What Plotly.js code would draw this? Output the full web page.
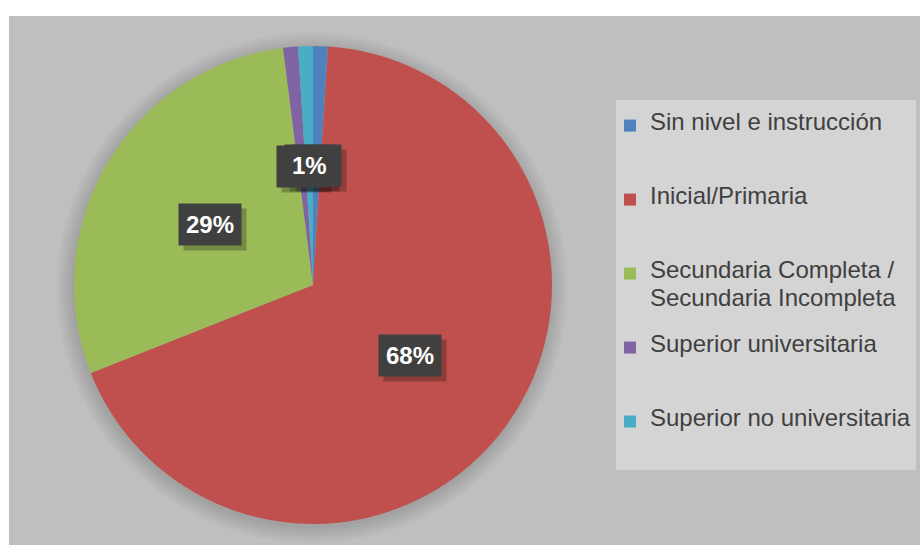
<!DOCTYPE html>
<html>
<head>
<meta charset="utf-8">
<script src="https://cdn.plot.ly/plotly-3.0.1.min.js"></script>
<style>html,body{margin:0;padding:0;background:#fff;}#chart{width:920px;height:545px;}</style>
</head>
<body>
<div id="chart"></div>
<script>
// ---- data ----
const categories = [
  'Sin nivel e instrucción',
  'Inicial/Primaria',
  'Secundaria Completa /\nSecundaria Incompleta',
  'Superior universitaria',
  'Superior no universitaria'
];
const values = [1, 68, 29, 1, 1];
const colors = ['#4f81bd', '#c0504d', '#9bbb59', '#8064a2', '#4bacc6'];

// ---- layout constants ----
const W = 920, H = 545;
const CX = 313, CY = 285, R = 239;

function legendText(cat) {
  const parts = cat.split('\n');
  const rows = [];
  for (let i = 0; i < 5; i++) {
    if (i % 2 === 0 && parts[i / 2]) rows.push('<span style="font-size:24px">' + parts[i / 2] + '</span>');
    else rows.push('\u00a0');
  }
  return rows.join('<br>');
}

const total = values.reduce((a, b) => a + b, 0);
const annotations = [];
const shadowAnn = [];
let cum = 0;
values.forEach((v) => {
  const mid = (cum + v / 2) / total * 2 * Math.PI;
  cum += v;
  const px = CX + 0.5 * R * Math.sin(mid);
  const py = CY - 0.5 * R * Math.cos(mid);
  const txt = Math.round(100 * v / total) + '%';
  const base = {
    xref: 'paper', yref: 'paper', x: px / W, y: 1 - py / H,
    xanchor: 'center', yanchor: 'middle', showarrow: false, text: txt,
    borderpad: 7,
    font: {family: 'Liberation Sans, Arial, sans-serif', size: 24, weight: 'bold', color: '#ffffff'}
  };
  shadowAnn.push(Object.assign({}, base, {
    xshift: 5, yshift: -5, bgcolor: 'rgba(0,0,0,0.25)',
    font: Object.assign({}, base.font, {color: 'rgba(0,0,0,0)'})
  }));
  annotations.push(Object.assign({}, base, {bgcolor: '#404040'}));
});

const shapes = [
  {type: 'rect', xref: 'paper', yref: 'paper', x0: 9 / W, x1: 1, y0: 0, y1: 1 - 16 / H,
   fillcolor: '#bfbfbf', line: {width: 0}, layer: 'below'},
  {type: 'rect', xref: 'paper', yref: 'paper', x0: 616 / W, x1: 916 / W, y0: 1 - 470 / H, y1: 1 - 100 / H,
   fillcolor: '#d4d4d4', line: {width: 0}, layer: 'below'}
];
[16, 13, 10, 7, 4, 1].forEach((d) => {
  const sx = CX - 1, sy = CY + 3;
  shapes.push({type: 'circle', xref: 'paper', yref: 'paper',
    x0: (sx - R - d) / W, x1: (sx + R + d) / W,
    y0: 1 - (sy + R + d) / H, y1: 1 - (sy - R - d) / H,
    fillcolor: 'rgba(0,0,0,0.025)', line: {width: 0}, layer: 'below'});
});

const trace = {
  type: 'pie',
  labels: categories.map(legendText),
  values: values,
  sort: false,
  direction: 'clockwise',
  rotation: 0,
  marker: {colors: colors, line: {width: 0}},
  textinfo: 'none',
  hoverinfo: 'skip',
  domain: {x: [(CX - R) / W, (CX + R) / W], y: [(H - CY - R) / H, (H - CY + R) / H]}
};

const layout = {
  width: W, height: H,
  margin: {l: 0, r: 0, t: 0, b: 0, autoexpand: false},
  paper_bgcolor: '#ffffff',
  showlegend: true,
  legend: {
    x: 610 / W, xanchor: 'left', y: 1 - 112 / H, yanchor: 'top',
    bgcolor: 'rgba(0,0,0,0)', borderwidth: 0, valign: 'top', traceorder: 'normal',
    font: {family: 'Liberation Sans, Arial, sans-serif', size: 10.92, color: '#404040'}
  },
  shapes: shapes,
  annotations: shadowAnn.concat(annotations)
};

Plotly.newPlot('chart', [trace], layout, {displayModeBar: false, staticPlot: true});
</script>
</body>
</html>
